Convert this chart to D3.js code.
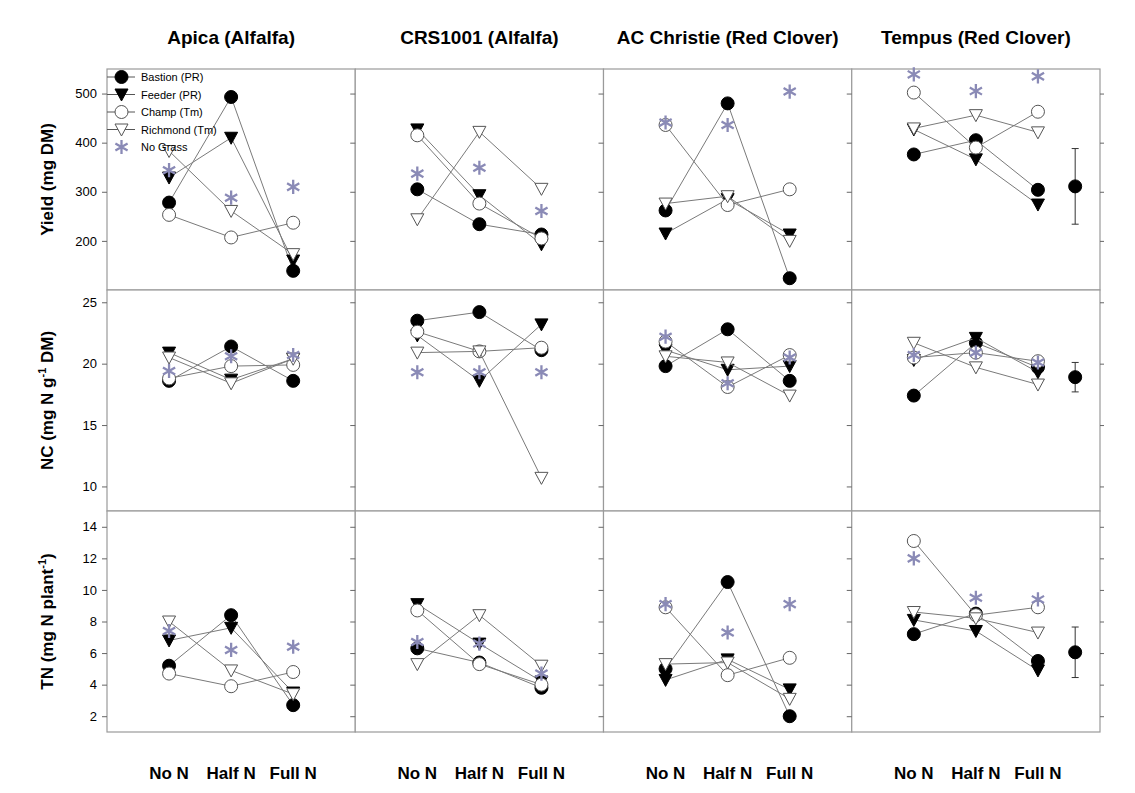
<!DOCTYPE html>
<html lang="en">
<head>
<meta charset="UTF-8" />
<title>forage legumes</title>
<style>
  body { margin: 0; background: #fff; font-family: "Liberation Sans", Arial, sans-serif; }
  .col-title { font-size: 19px; font-weight: bold; text-anchor: middle; }
  .x-label { font-size: 17px; font-weight: bold; text-anchor: middle; }
  .y-title { font-size: 17px; font-weight: bold; text-anchor: middle; }
  .tick text { font-size: 13px; fill: #000; }
  .legend text { font-size: 11px; }
</style>
</head>
<body>
<script src="https://cdn.jsdelivr.net/npm/d3@7"></script>
<script>
const cultivars = ["Apica (Alfalfa)", "CRS1001 (Alfalfa)", "AC Christie (Red Clover)", "Tempus (Red Clover)"];
const treatments = ["No N", "Half N", "Full N"];
const seriesNames = ["Bastion (PR)", "Feeder (PR)", "Champ (Tm)", "Richmond (Tm)", "No Grass"];

// one row per cultivar, values for No N / Half N / Full N
const yieldBastion = [[278, 493, 139], [305, 234, 213], [262, 480, 124], [376, 405, 304]];
const yieldFeeder = [[329, 410, 160], [427, 293, 193], [215, 285, 213], [427, 366, 274]];
const yieldChamp = [[253, 207, 237], [415, 276, 205], [436, 273, 305], [502, 390, 463]];
const yieldRichmond = [[383, 261, 173], [244, 422, 306], [276, 291, 200], [429, 456, 421]];
const yieldNoGrass = [[344, 288, 310], [337, 349, 261], [441, 436, 504], [539, 505, 535]];

const ncBastion = [[18.6, 21.4, 18.6], [23.5, 24.2, 21.1], [19.8, 22.8, 18.6], [17.4, 21.7, 19.7]];
const ncFeeder = [[20.9, 18.7, 20.4], [22.3, 18.6, 23.2], [21.1, 19.5, 19.8], [20.3, 22.1, 19.3]];
const ncChamp = [[18.8, 19.8, 19.9], [22.6, 21.0, 21.3], [21.8, 18.1, 20.7], [20.5, 20.9, 20.2]];
const ncRichmond = [[20.5, 18.4, 20.4], [20.9, 21.0, 10.7], [20.6, 20.1, 17.4], [21.7, 19.7, 18.3]];
const ncNoGrass = [[19.4, 20.6, 20.7], [19.3, 19.3, 19.3], [22.2, 18.4, 20.5], [20.7, 20.9, 20.1]];

const tnBastion = [[5.2, 8.4, 2.7], [6.3, 5.4, 3.8], [5.0, 10.5, 2.0], [7.2, 8.5, 5.5]];
const tnFeeder = [[6.8, 7.6, 3.5], [9.1, 6.6, 4.2], [4.3, 5.6, 3.7], [8.1, 7.4, 4.9]];
const tnChamp = [[4.7, 3.9, 4.8], [8.7, 5.3, 4.0], [8.9, 4.6, 5.7], [13.1, 8.4, 8.9]];
const tnRichmond = [[8.0, 4.9, 3.4], [5.3, 8.4, 5.2], [5.3, 5.4, 3.1], [8.6, 8.2, 7.3]];
const tnNoGrass = [[7.4, 6.2, 6.4], [6.7, 6.6, 4.7], [9.1, 7.3, 9.1], [12.0, 9.5, 9.4]];

// mean and error bar half-width shown beside the Tempus panels
const yieldMean = [311, 77];
const ncMean = [18.9, 1.2];
const tnMean = [6.05, 1.6];

const yieldTicks = [200, 300, 400, 500];
const ncTicks = [10, 15, 20, 25];
const tnTicks = [2, 4, 6, 8, 10, 12, 14];

const rows = [
  { series: [yieldBastion, yieldFeeder, yieldChamp, yieldRichmond, yieldNoGrass], domain: [100, 550], ticks: yieldTicks, mean: yieldMean },
  { series: [ncBastion, ncFeeder, ncChamp, ncRichmond, ncNoGrass], domain: [8, 26], ticks: ncTicks, mean: ncMean },
  { series: [tnBastion, tnFeeder, tnChamp, tnRichmond, tnNoGrass], domain: [1, 15], ticks: tnTicks, mean: tnMean }
];

const width = 1135, height = 793;
const leftMargin = 107, topMargin = 69;
const panelW = 248.25, panelH = 221;
const lineColor = "#7a7a7a";
const starColor = "#8a8ab6";
const frameColor = "#9a9a9a";

const svg = d3.select("body").append("svg").attr("width", width).attr("height", height);

const x = d3.scaleLinear().domain([0, 4]).range([0, panelW]);

// marker drawing
const tri = "M-6.5,-5.5L6.5,-5.5L0,6.5Z";
const star = d3.symbol(d3.symbolAsterisk, 140)();
function marker(g, kind, cx, cy) {
  if (kind === 0 || kind === 2) {
    g.append("circle").attr("cx", cx).attr("cy", cy).attr("r", 6.5)
      .attr("fill", kind === 0 ? "#000" : "#fff").attr("stroke", kind === 0 ? "#000" : "#555").attr("stroke-width", 1);
  } else if (kind === 1 || kind === 3) {
    g.append("path").attr("d", tri).attr("transform", `translate(${cx},${cy})`)
      .attr("fill", kind === 1 ? "#000" : "#fff").attr("stroke", kind === 1 ? "#000" : "#555").attr("stroke-width", 1);
  } else {
    g.append("path").attr("d", star).attr("transform", `translate(${cx},${cy})`)
      .attr("fill", "none").attr("stroke", starColor).attr("stroke-width", 2.3);
  }
}

// column titles
cultivars.forEach((c, i) => {
  svg.append("text").attr("class", "col-title")
    .attr("x", leftMargin + i * panelW + panelW / 2).attr("y", 44).text(c);
});

rows.forEach((row, r) => {
  const y = d3.scaleLinear().domain(row.domain).range([panelH, 0]);
  for (let c = 0; c < 4; c++) {
    const g = svg.append("g").attr("transform", `translate(${leftMargin + c * panelW},${topMargin + r * panelH})`);
    g.append("rect").attr("width", panelW).attr("height", panelH)
      .attr("fill", "#fff").attr("stroke", frameColor).attr("stroke-width", 1.2);

    const axL = g.append("g").call(d3.axisLeft(y).tickValues(row.ticks).tickSize(5).tickPadding(5));
    axL.select(".domain").remove();
    axL.selectAll("line").attr("stroke", "#666");
    if (c > 0) axL.selectAll("text").remove();
    const axR = g.append("g").attr("transform", `translate(${panelW},0)`)
      .call(d3.axisRight(y).tickValues(row.ticks).tickSize(4).tickFormat(""));
    axR.select(".domain").remove();
    axR.selectAll("line").attr("stroke", "#666");

    const line = d3.line().x((d, i) => x(i + 1)).y(d => y(d));
    row.series.forEach((s, k) => {
      const vals = s[c];
      if (k < 4) {
        g.append("path").attr("d", line(vals)).attr("fill", "none")
          .attr("stroke", lineColor).attr("stroke-width", 1);
      }
      vals.forEach((v, i) => marker(g, k, x(i + 1), y(v)));
    });

    if (c === 3) {
      const mx = x(3.6);
      const [m, e] = row.mean;
      g.append("line").attr("x1", mx).attr("x2", mx).attr("y1", y(m - e)).attr("y2", y(m + e))
        .attr("stroke", "#333");
      [m - e, m + e].forEach(v => g.append("line").attr("x1", mx - 3.5).attr("x2", mx + 3.5)
        .attr("y1", y(v)).attr("y2", y(v)).attr("stroke", "#333"));
      marker(g, 0, mx, y(m));
    }

    if (r === 0 && c === 0) {
      const lg = g.append("g").attr("class", "legend");
      seriesNames.forEach((n, k) => {
        const ly = 8 + k * 17.5;
        if (k < 4) lg.append("line").attr("x1", 0).attr("x2", 28).attr("y1", ly).attr("y2", ly)
          .attr("stroke", "#555");
        marker(lg, k, 14.5, ly);
        lg.append("text").attr("x", 34).attr("y", ly + 4).text(n);
      });
    }
  }
});

// x labels
for (let c = 0; c < 4; c++) {
  treatments.forEach((t, i) => {
    svg.append("text").attr("class", "x-label")
      .attr("x", leftMargin + c * panelW + x(i + 1)).attr("y", 779).text(t);
  });
}

// y titles
const yTitles = [
  ["Yield (mg DM)", null, ""],
  ["NC (mg N g", "-1", " DM)"],
  ["TN (mg N plant", "-1", ")"]
];
yTitles.forEach((t, r) => {
  const cy = topMargin + r * panelH + panelH / 2;
  const txt = svg.append("text").attr("class", "y-title")
    .attr("transform", `translate(53,${cy}) rotate(-90)`);
  txt.append("tspan").text(t[0]);
  if (t[1]) {
    txt.append("tspan").attr("dy", -7).attr("font-size", 11).text(t[1]);
    txt.append("tspan").attr("dy", 7).text(t[2]);
  }
});
</script>
</body>
</html>
